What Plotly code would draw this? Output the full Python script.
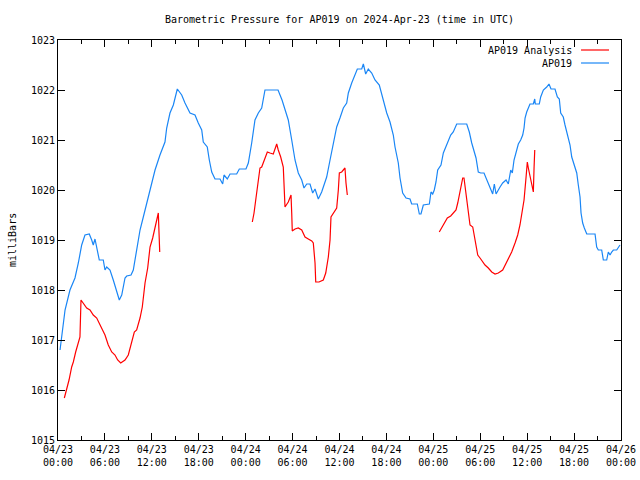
import pandas as pd
import plotly.graph_objects as go

# Hours after 2024-04-23 00:00 UTC and pressure (mb)
ap019_hours = [0.26, 0.90, 1.53, 2.17, 2.60, 3.03, 3.45, 4.00, 4.31, 4.51, 4.73, 5.08, 5.28, 5.79, 6.01, 6.23,
               6.65, 7.07, 7.51, 7.84, 8.15, 8.57, 8.79, 9.34, 9.63, 10.06, 10.49, 10.91, 11.34, 11.77, 12.41,
               13.04, 13.68, 13.90, 14.32, 14.75, 15.18, 15.26, 15.82, 16.24, 16.88, 17.52, 17.94, 18.38, 18.58,
               19.09, 19.35, 19.66, 20.08, 20.72, 21.06, 21.23, 21.65, 22.00, 22.85, 23.19, 24.04, 24.34, 24.77,
               24.98, 25.19, 25.62, 26.05, 26.47, 28.14, 28.65, 29.03, 29.45, 29.89, 30.31, 30.73, 31.17, 31.46,
               31.81, 32.23, 32.57, 32.87, 33.29, 33.72, 34.36, 34.79, 35.21, 35.64, 36.06, 36.49, 36.92, 37.13,
               37.56, 37.98, 38.28, 38.84, 39.05, 39.35, 39.68, 40.12, 40.54, 41.09, 41.40, 41.69, 42.04, 42.46,
               42.88, 43.10, 43.52, 43.74, 44.08, 44.51, 45.02, 45.23, 45.95, 46.21, 46.42, 46.72, 47.49, 47.70,
               47.92, 48.12, 48.34, 48.56, 48.98, 49.28, 49.71, 50.22, 50.55, 50.99, 52.27, 52.60, 52.91, 53.20,
               53.46, 53.75, 54.06, 54.48, 54.83, 55.25, 55.59, 55.80, 56.02, 56.53, 56.87, 57.30, 57.59, 57.90,
               58.10, 58.32, 58.66, 58.87, 59.17, 59.43, 59.60, 59.73, 59.94, 60.36, 60.79, 60.97, 61.04, 61.55,
               61.73, 62.07, 62.50, 62.79, 63.05, 63.56, 63.86, 64.11, 64.29, 64.62, 64.84, 65.06, 65.26, 65.48,
               65.70, 65.90, 66.12, 66.34, 66.54, 66.76, 66.89, 67.10, 67.31, 67.62, 68.68, 68.89, 69.10, 69.53,
               69.74, 70.17, 70.38, 70.60, 70.81, 71.02, 71.45, 71.66, 71.87]
ap019_mb = [1016.8, 1017.6, 1018.0, 1018.24, 1018.54, 1018.9, 1019.1, 1019.12, 1019.0, 1018.9, 1019.02, 1018.76,
            1018.6, 1018.6, 1018.4, 1018.46, 1018.4, 1018.2, 1017.94, 1017.8, 1017.9, 1018.24, 1018.28, 1018.3,
            1018.4, 1018.8, 1019.2, 1019.46, 1019.74, 1020.0, 1020.4, 1020.7, 1020.96, 1021.24, 1021.54, 1021.7,
            1021.96, 1022.02, 1021.9, 1021.74, 1021.54, 1021.5, 1021.34, 1021.2, 1020.96, 1020.86, 1020.6, 1020.36,
            1020.22, 1020.22, 1020.12, 1020.3, 1020.22, 1020.32, 1020.32, 1020.42, 1020.42, 1020.54, 1020.94,
            1021.2, 1021.4, 1021.54, 1021.64, 1022.0, 1022.0, 1021.8, 1021.6, 1021.4, 1021.0, 1020.6, 1020.34,
            1020.2, 1020.04, 1020.12, 1020.12, 1019.94, 1020.02, 1019.82, 1019.96, 1020.26, 1020.6, 1020.94,
            1021.26, 1021.44, 1021.64, 1021.74, 1021.94, 1022.14, 1022.3, 1022.42, 1022.42, 1022.52, 1022.32,
            1022.42, 1022.34, 1022.2, 1022.1, 1021.9, 1021.76, 1021.54, 1021.36, 1021.1, 1020.86, 1020.54,
            1020.24, 1019.94, 1019.84, 1019.82, 1019.72, 1019.72, 1019.52, 1019.52, 1019.7, 1019.72, 1019.96,
            1019.92, 1020.0, 1020.16, 1020.4, 1020.5, 1020.74, 1020.9, 1021.1, 1021.16, 1021.32, 1021.32, 1021.16,
            1020.94, 1020.8, 1020.64, 1020.36, 1020.34, 1020.34, 1020.2, 1020.04, 1019.92, 1020.12, 1019.92,
            1020.06, 1020.14, 1020.2, 1020.12, 1020.4, 1020.34, 1020.6, 1020.8, 1020.92, 1021.0, 1021.1, 1021.24,
            1021.44, 1021.56, 1021.72, 1021.72, 1021.82, 1021.72, 1021.72, 1021.86, 1022.0, 1022.06, 1022.12,
            1022.02, 1022.02, 1021.86, 1021.82, 1021.54, 1021.46, 1021.3, 1021.14, 1021.04, 1020.9, 1020.66,
            1020.56, 1020.46, 1020.34, 1020.1, 1019.86, 1019.54, 1019.34, 1019.24, 1019.12, 1019.12, 1018.86,
            1018.8, 1018.8, 1018.6, 1018.6, 1018.76, 1018.7, 1018.76, 1018.8, 1018.8, 1018.86, 1018.9]

analysis1_hours = [0.81, 1.11, 1.41, 1.75, 1.96, 2.26, 2.60, 2.81, 2.94, 3.24, 3.67, 4.09, 4.51, 4.95, 5.37, 5.79,
                   6.01, 6.43, 6.87, 7.29, 7.63, 8.02, 8.57, 8.99, 9.43, 9.76, 10.06, 10.49, 10.78, 11.13, 11.47,
                   11.77, 12.11, 12.41, 12.70, 12.83, 12.92, 13.01]
analysis1_mb = [1015.84, 1016.0, 1016.2, 1016.46, 1016.56, 1016.76, 1016.94, 1017.06, 1017.8, 1017.74, 1017.64,
                1017.6, 1017.5, 1017.44, 1017.3, 1017.16, 1017.1, 1016.9, 1016.76, 1016.7, 1016.6, 1016.54, 1016.6,
                1016.7, 1016.94, 1017.16, 1017.2, 1017.44, 1017.66, 1018.14, 1018.44, 1018.86, 1019.04, 1019.26,
                1019.46, 1019.54, 1019.14, 1018.76]
analysis2_hours = [24.85, 25.07, 25.32, 25.62, 25.83, 26.05, 26.35, 26.77, 27.11, 27.53, 27.84, 27.97, 28.17,
                   28.48, 28.81, 28.94, 29.03, 29.45, 29.80, 29.89, 29.96, 30.31, 30.73, 31.17, 31.59, 32.01,
                   32.45, 32.65, 32.87, 32.96, 33.38, 33.93, 34.24, 34.57, 34.79, 34.91, 35.21, 35.64, 35.85,
                   35.98, 36.28, 36.70, 36.83, 37.00]
analysis2_mb = [1019.36, 1019.54, 1019.84, 1020.2, 1020.44, 1020.46, 1020.6, 1020.76, 1020.74, 1020.72, 1020.86,
                1020.92, 1020.8, 1020.66, 1020.46, 1020.04, 1019.66, 1019.76, 1019.9, 1019.54, 1019.18, 1019.22,
                1019.24, 1019.2, 1019.06, 1019.02, 1018.98, 1018.94, 1018.54, 1018.16, 1018.16, 1018.2, 1018.34,
                1018.66, 1019.0, 1019.46, 1019.54, 1019.64, 1020.0, 1020.34, 1020.36, 1020.44, 1020.14, 1019.9]
analysis3_hours = [48.76, 49.07, 49.37, 49.79, 50.22, 50.55, 50.90, 51.12, 51.32, 51.54, 51.76, 51.92, 52.09,
                   52.27, 52.47, 52.69, 53.04, 53.24, 53.46, 53.68, 53.97, 54.32, 54.61, 55.03, 55.47, 55.89,
                   56.31, 56.87, 57.30, 57.72, 58.02, 58.45, 58.79, 59.08, 59.38, 59.60, 59.85, 60.02, 60.15,
                   60.36, 60.58, 60.71, 60.79, 60.88, 60.97]
analysis3_mb = [1019.16, 1019.24, 1019.34, 1019.44, 1019.48, 1019.54, 1019.6, 1019.74, 1019.9, 1020.1, 1020.24,
                1020.24, 1020.04, 1019.86, 1019.66, 1019.3, 1019.26, 1019.06, 1018.9, 1018.7, 1018.64, 1018.56,
                1018.5, 1018.44, 1018.36, 1018.32, 1018.34, 1018.4, 1018.54, 1018.66, 1018.76, 1018.94, 1019.1,
                1019.3, 1019.6, 1019.8, 1020.24, 1020.56, 1020.44, 1020.26, 1020.14, 1019.96, 1019.96, 1020.44,
                1020.8]

start = pd.Timestamp("2024-04-23 00:00")
end = pd.Timestamp("2024-04-26 00:00")
y_ticks = [1015, 1016, 1017, 1018, 1019, 1020, 1021, 1022, 1023]


def to_time(hours):
    return list(start + pd.to_timedelta(hours, unit="h"))


an_x, an_y = [], []
for hh, pp in [(analysis1_hours, analysis1_mb), (analysis2_hours, analysis2_mb), (analysis3_hours, analysis3_mb)]:
    an_x += to_time(hh) + [None]
    an_y += pp + [None]

RED = "#ff0000"
BLUE = "#1a86f5"
FONT = "DejaVu Sans Mono"

fig = go.Figure()
fig.add_trace(go.Scatter(x=an_x, y=an_y, mode="lines", name="AP019 Analysis",
                         line=dict(color=RED, width=1.2), connectgaps=False))
fig.add_trace(go.Scatter(x=to_time(ap019_hours), y=ap019_mb, mode="lines", name="AP019",
                         line=dict(color=BLUE, width=1.2)))

fig.update_layout(
    width=640, height=480,
    margin=dict(l=58, r=19, t=40, b=40, autoexpand=False),
    paper_bgcolor="white", plot_bgcolor="white",
    showlegend=False,
    font=dict(family=FONT, size=10, color="black"),
    title=dict(text="Barometric Pressure for AP019 on 2024-Apr-23 (time in UTC)",
               xref="paper", x=0.5, xanchor="center", y=1 - 19 / 480, yanchor="middle", automargin=False,
               font=dict(family=FONT, size=10, color="black")),
)
fig.update_xaxes(
    type="date", range=[start, end], showgrid=False, zeroline=False, automargin=False,
    showline=True, linecolor="black", linewidth=1, mirror="allticks",
    ticks="inside", ticklen=7, tickcolor="black", tickwidth=1,
    dtick=6 * 3600 * 1000, tick0=start, tickformat="%m/%d<br>%H:%M",
    minor=dict(dtick=3 * 3600 * 1000, ticks="inside", ticklen=4, tickcolor="black", showgrid=False),
    tickfont=dict(family=FONT, size=10, color="black"),
)
fig.update_yaxes(
    range=[1015, 1023], showgrid=False, zeroline=False, automargin=False,
    showline=True, linecolor="black", linewidth=1, mirror="allticks",
    ticks="inside", ticklen=7, tickcolor="black", tickwidth=1,
    tickvals=y_ticks, ticktext=[str(v) for v in y_ticks],
    tickfont=dict(family=FONT, size=10, color="black"),
)

# Y-axis title
fig.add_annotation(xref="paper", yref="paper", x=(12 - 58) / 563, y=0.5, text="milliBars", showarrow=False,
                   textangle=-90, xanchor="center", yanchor="middle",
                   font=dict(family=FONT, size=10, color="black"))

# Legend drawn gnuplot-style (text right, sample line after it)
legend_items = [("AP019 Analysis", RED, 0.975), ("AP019", BLUE, 0.9425)]
for label, color, ypos in legend_items:
    fig.add_annotation(xref="paper", yref="paper", x=0.9165, y=ypos, text=label, showarrow=False,
                       xanchor="right", yanchor="middle", font=dict(family=FONT, size=10, color="black"))
    fig.add_shape(type="line", xref="paper", yref="paper", x0=0.929, x1=0.9787, y0=ypos, y1=ypos,
                  line=dict(color=color, width=1.2))

fig.write_html("out.html", config={"displayModeBar": False},
               post_script="document.body.style.margin='0';document.body.style.padding='0';")
